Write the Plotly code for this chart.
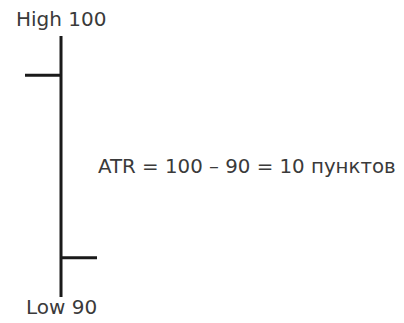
import plotly.graph_objects as go

# one price bar
bar_x = [0]
open_price = [98.5]
high_price = [100]
low_price = [90]
close_price = [91.5]
unit = "пунктов"

atr = high_price[0] - low_price[0]

bar_line = dict(color="#1a1a1a", width=3)

# page body has an 8px margin, so the figure is drawn 8px smaller
fig = go.Figure(data=[go.Ohlc(x=bar_x, open=open_price, high=high_price, low=low_price, close=close_price,
                              tickwidth=0.3,
                              increasing=dict(line=bar_line),
                              decreasing=dict(line=bar_line),
                              hoverinfo="skip")],
                layout=dict(height=315, width=396))

font = dict(family="DejaVu Sans, sans-serif", size=20, color="#3a3a3a")
atr_font = dict(family="DejaVu Sans, sans-serif", size=19.8, color="#3a3a3a")

fig.add_annotation(x=bar_x[0], y=high_price[0], text="High {0}".format(high_price[0]),
                   showarrow=False, yanchor="bottom", yshift=4, borderpad=0, font=font)
fig.add_annotation(x=bar_x[0], y=low_price[0], text="Low {0}".format(low_price[0]),
                   showarrow=False, yanchor="top", yshift=3, borderpad=0, font=font)
fig.add_annotation(x=0.30, y=95.0,
                   text="ATR = {0} – {1} = {2} {3}".format(high_price[0], low_price[0], atr, unit),
                   showarrow=False, xanchor="left", borderpad=0, font=atr_font)

fig.update_layout(
    margin=dict(l=0, r=0, t=0, b=0),
    paper_bgcolor="white",
    plot_bgcolor="white",
    showlegend=False,
    xaxis=dict(range=[-0.4417, 2.858], visible=False, rangeslider=dict(visible=False), fixedrange=True),
    yaxis=dict(range=[89.004, 101.073], visible=False, fixedrange=True),
)

fig.write_html("out.html")
